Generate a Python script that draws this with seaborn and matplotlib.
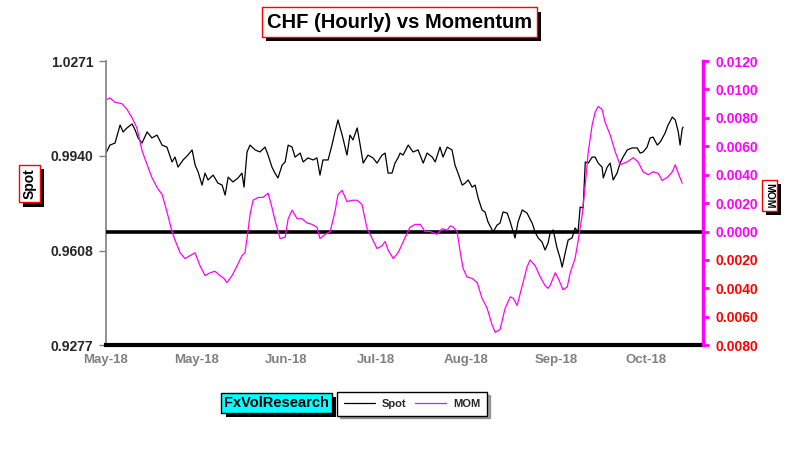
import numpy as np
import pandas as pd
import matplotlib
matplotlib.use("Agg")
import matplotlib.pyplot as plt
import matplotlib.patheffects as pe
from matplotlib.ticker import FuncFormatter
from matplotlib.lines import Line2D
import seaborn as sns

# Spot (CHF hourly), x = days since start of May-18
spot_days = [0, 1.3, 3, 4.7, 5.7, 7, 8.7, 9.7, 10.7, 12, 13.7, 15.3, 17, 18.7, 20.3, 22, 23, 24,
             25.7, 27.3, 28.7, 29.7, 30.7, 32, 33, 34, 35.7, 37.3, 38.7, 39.7, 40.7, 42.3, 44,
             45.3, 46, 47, 48, 49.7, 51.3, 53, 54, 55.3, 56.3, 57.3, 58.7, 59.7, 60.7, 62, 63,
             64.7, 65.7, 67.3, 69, 70.3, 71.3, 72.3, 74, 75.3, 76.3, 77.3, 78.7, 80.3, 81.3, 82.3,
             83.7, 84.7, 85.7, 87.3, 89, 90.3, 92, 93, 94, 95.3, 96.3, 97.3, 98, 99, 100.7, 102.3,
             104, 105.7, 107, 108.7, 109.7, 111.3, 112.3, 113.7, 115.3, 116.3, 117.3, 118.7, 119.7,
             120.7, 122, 123, 124, 125.3, 126.3, 127.3, 129, 130.3, 131.3, 132.3, 133.7, 134.7,
             136.3, 137.3, 138.7, 140.3, 142, 143, 144, 145.3, 146.3, 147.3, 148, 149, 150.3,
             151.3, 152, 153, 154, 155.3, 156.3, 157.3, 158, 159, 159.7, 160.7, 162, 163, 164,
             165.3, 165.7, 167, 168, 169, 170.3, 171.3, 172.3, 173.7, 175.3, 177, 178, 179, 180.3,
             181.3, 182.3, 183.7, 184.7, 186.3, 187.3, 188.7, 189.7, 190.7, 191.3, 192, 192.3]
spot_vals = [0.9949, 0.9977, 0.9984, 1.0047, 1.0023, 1.0037, 1.0051, 1.0030, 1.0002, 0.9984,
             1.0023, 1.0002, 1.0012, 0.9977, 0.9970, 0.9918, 0.9935, 0.9900, 0.9925, 0.9942,
             0.9960, 0.9907, 0.9883, 0.9837, 0.9879, 0.9855, 0.9872, 0.9844, 0.9837, 0.9802,
             0.9865, 0.9848, 0.9862, 0.9879, 0.9830, 0.9953, 0.9977, 0.9960, 0.9953, 0.9970,
             0.9942, 0.9900, 0.9879, 0.9862, 0.9907, 0.9918, 0.9977, 0.9970, 0.9935, 0.9949,
             0.9918, 0.9932, 0.9925, 0.9932, 0.9872, 0.9925, 0.9925, 0.9977, 1.0023, 1.0065,
             1.0012, 0.9942, 1.0012, 0.9995, 1.0037, 0.9977, 0.9914, 0.9942, 0.9932, 0.9914,
             0.9942, 0.9949, 0.9879, 0.9879, 0.9914, 0.9932, 0.9949, 0.9942, 0.9977, 0.9953,
             0.9960, 0.9914, 0.9949, 0.9935, 0.9918, 0.9970, 0.9935, 0.9970, 0.9960, 0.9907,
             0.9879, 0.9837, 0.9844, 0.9855, 0.9830, 0.9837, 0.9792, 0.9750, 0.9743, 0.9708,
             0.9673, 0.9697, 0.9704, 0.9743, 0.9739, 0.9708, 0.9652, 0.9708, 0.9750, 0.9739,
             0.9704, 0.9673, 0.9652, 0.9638, 0.9610, 0.9634, 0.9669, 0.9680, 0.9617, 0.9582,
             0.9550, 0.9599, 0.9645, 0.9652, 0.9687, 0.9673, 0.9760, 0.9757, 0.9918, 0.9914,
             0.9935, 0.9935, 0.9914, 0.9900, 0.9862, 0.9900, 0.9914, 0.9855, 0.9879, 0.9914,
             0.9935, 0.9960, 0.9967, 0.9967, 0.9949, 0.9953, 0.9970, 1.0002, 1.0005, 0.9977,
             0.9988, 1.0019, 1.0047, 1.0075, 1.0065, 1.0023, 0.9977, 1.0033, 1.0040]

# Momentum
mom_days = [0.3, 1.3, 3, 5.3, 7, 8.7, 10.3, 12, 13.7, 15.3, 17, 18.7, 20.3, 22, 23, 24.7, 26.3,
            28, 29.7, 31.3, 33, 34.7, 36.3, 38, 39.3, 40.3, 42, 43.7, 45.3, 46.3, 47.3, 48, 49,
            50.7, 52.3, 54, 55.3, 56.3, 58, 59.7, 60.7, 62, 63.7, 65.3, 67, 68.7, 70.3, 71.3, 73,
            74.7, 76.3, 77.3, 78.7, 80.3, 82, 83.7, 85.3, 87, 88.7, 90.3, 92, 93, 94, 95.7, 97.3,
            98, 99.7, 101.3, 103, 104.7, 106.3, 108, 110.3, 112, 113.7, 114.7, 115.7, 117, 118,
            119, 120.3, 122, 123.7, 125.3, 127, 128.7, 129.7, 131.3, 133, 134.7, 135.7, 137,
            138.7, 140.3, 141.3, 143, 144.7, 146.3, 147.3, 148, 149.7, 150.7, 152.3, 153.7,
            154.7, 156.3, 157.3, 158.7, 159.7, 160.7, 162, 163, 164, 165.3, 166.3, 168, 169.7,
            171.3, 173.7, 175.7, 177.3, 179, 180.7, 182.3, 184, 185.3, 187, 188.7, 189.7, 190.7,
            192]
mom_vals = [0.0093, 0.0094, 0.0091, 0.0090, 0.0086, 0.0080, 0.0073, 0.0057, 0.0047, 0.0038,
            0.0031, 0.0026, 0.0014, 0.0000, -0.0006, -0.0015, -0.0019, -0.0017, -0.0015, -0.0024,
            -0.0031, -0.0029, -0.0028, -0.0031, -0.0033, -0.0036, -0.0031, -0.0024, -0.0017,
            -0.0015, 0.0000, 0.0012, 0.0022, 0.0024, 0.0024, 0.0027, 0.0017, 0.0008, -0.0005,
            -0.0004, 0.0009, 0.0015, 0.0009, 0.0009, 0.0006, 0.0005, 0.0003, -0.0005, -0.0002,
            0.0000, 0.0014, 0.0026, 0.0029, 0.0021, 0.0022, 0.0022, 0.0019, 0.0002, -0.0005,
            -0.0012, -0.0010, -0.0007, -0.0013, -0.0019, -0.0015, -0.0012, -0.0004, 0.0003,
            0.0005, 0.0005, 0.0000, 0.0000, -0.0002, 0.0002, 0.0001, 0.0004, 0.0003, 0.0000,
            -0.0014, -0.0026, -0.0032, -0.0033, -0.0036, -0.0047, -0.0054, -0.0066, -0.0071,
            -0.0069, -0.0054, -0.0046, -0.0047, -0.0052, -0.0038, -0.0025, -0.0020, -0.0024,
            -0.0032, -0.0038, -0.0040, -0.0038, -0.0029, -0.0033, -0.0041, -0.0039, -0.0029,
            -0.0019, -0.0007, 0.0012, 0.0033, 0.0056, 0.0075, 0.0084, 0.0088, 0.0086, 0.0077,
            0.0068, 0.0056, 0.0047, 0.0049, 0.0052, 0.0049, 0.0042, 0.0040, 0.0042, 0.0041,
            0.0036, 0.0038, 0.0042, 0.0047, 0.0041, 0.0034]

tick_days = [0, 30, 60, 90, 120, 150, 180]
tick_labels = ["May-18", "May-18", "Jun-18", "Jul-18", "Aug-18", "Sep-18", "Oct-18"]
spot_ticks = [0.9277, 0.9608, 0.9940, 1.0271]
mom_ticks = [-0.008, -0.006, -0.004, -0.002, 0.0, 0.002, 0.004, 0.006, 0.008, 0.010, 0.012]

spot_df = pd.DataFrame({"day": spot_days, "spot": spot_vals})
mom_df = pd.DataFrame({"day": mom_days, "mom": mom_vals})

sns.set_style("white")
plt.rcParams["font.family"] = ["Liberation Sans", "DejaVu Sans"]

fig = plt.figure(figsize=(8, 4.59), dpi=100)
ax = fig.add_axes([0.1325, 0.248, 0.7465, 0.619])
ax2 = ax.twinx()

sns.lineplot(data=spot_df, x="day", y="spot", ax=ax, color="black", lw=0.9,
             estimator=None, sort=False)
sns.lineplot(data=mom_df, x="day", y="mom", ax=ax2, color="#ff00ff", lw=0.9,
             estimator=None, sort=False)
ax2.axhline(0, color="black", lw=2.6, zorder=1)

# left axis
ax.set_xlim(0, 199)
ax.set_ylim(0.9277, 1.0271)
ax.set_yticks(spot_ticks)
ax.yaxis.set_major_formatter(FuncFormatter(lambda v, p: f"{v:.4f}"))
ax.set_xticks(tick_days)
ax.set_xticklabels(tick_labels)
ax.tick_params(axis="x", length=0, pad=6, labelsize=9.5, labelcolor="#808080")
ax.tick_params(axis="y", length=5, width=1, color="#808080", direction="out",
               labelsize=10, pad=4, left=True)
for lab in ax.get_xticklabels() + ax.get_yticklabels():
    lab.set_fontweight("bold")
ax.set_xlabel("")
ax.set_ylabel("")
for s in ["top", "right"]:
    ax.spines[s].set_visible(False)
ax.spines["left"].set_color("#808080")
ax.spines["left"].set_linewidth(1.2)
ax.spines["bottom"].set_color("black")
ax.spines["bottom"].set_linewidth(3)

# right axis
ax2.set_ylim(-0.008, 0.012)
ax2.set_yticks(mom_ticks)
ax2.yaxis.set_major_formatter(FuncFormatter(lambda v, p: f"{abs(v):.4f}"))
ax2.tick_params(axis="y", length=4, width=2, color="#ff00ff", direction="out",
                labelsize=10, pad=5, right=True)
for v, lab in zip(mom_ticks, ax2.get_yticklabels()):
    lab.set_fontweight("bold")
    lab.set_color("#ff0000" if v < -1e-9 else "#ff00ff")
ax2.set_ylabel("")
for s in ["top", "left", "bottom"]:
    ax2.spines[s].set_visible(False)
ax2.spines["right"].set_color("#ff00ff")
ax2.spines["right"].set_linewidth(2.5)

shadow = [pe.SimplePatchShadow(offset=(3, -3), shadow_rgbFace="black", alpha=1.0), pe.Normal()]


def boxed(x, y, text, size, face="white", edge="red", rot=0, pad=0.25):
    t = fig.text(x, y, text, ha="center", va="center", fontsize=size, fontweight="bold",
                 rotation=rot, color="black",
                 bbox=dict(boxstyle=f"square,pad={pad}", fc=face, ec=edge, lw=1))
    t.get_bbox_patch().set_path_effects(shadow)
    return t


boxed(0.499, 0.952, "CHF (Hourly) vs Momentum", 14.5)
boxed(0.037, 0.6, "Spot", 10, rot=90)
boxed(0.962, 0.574, "MOM", 7.5, rot=270)
boxed(0.346, 0.122, "FxVolResearch", 10.5, face="#00ffff", edge="black", pad=0.2)

handles = [Line2D([], [], color="black", lw=0.9), Line2D([], [], color="#ff00ff", lw=0.9)]
leg = fig.legend(handles, ["Spot", "MOM"], loc="center", bbox_to_anchor=(0.515, 0.12),
                 ncol=2, frameon=True, fancybox=False, shadow=True, fontsize=8,
                 handlelength=2.8, columnspacing=0.8, borderpad=0.6, handletextpad=0.6)
leg.get_frame().set_edgecolor("black")
for t in leg.get_texts():
    t.set_fontweight("bold")

fig.savefig("out.png", dpi=100)
